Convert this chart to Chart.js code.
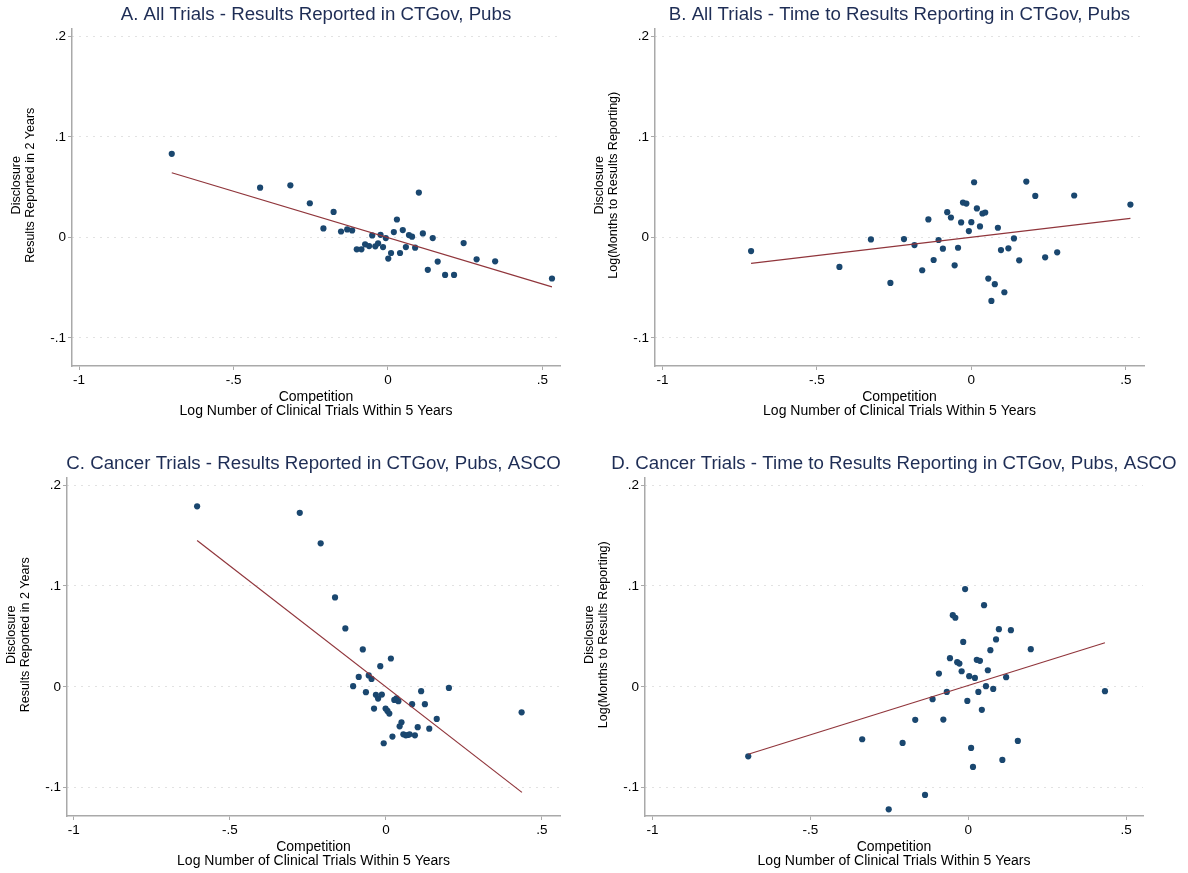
<!DOCTYPE html>
<html>
<head>
<meta charset="utf-8">
<title>Competition and disclosure</title>
<script src="https://cdn.jsdelivr.net/npm/chart.js@4.4.1/dist/chart.umd.min.js"></script>
<style>
    html, body { margin: 0; padding: 0; background: #fff; width: 1188px; height: 873px; overflow: hidden; }
    canvas { position: absolute; }
</style>
</head>
<body>
<canvas id="panelA" width="620" height="430" style="left:6px;top:0px"></canvas>
<canvas id="panelB" width="621" height="430" style="left:589px;top:0px"></canvas>
<canvas id="panelC" width="625" height="426" style="left:1px;top:449px"></canvas>
<canvas id="panelD" width="630" height="426" style="left:579px;top:449px"></canvas>
<script>
// Achsenbeschriftung (Stata-Stil ohne führende Null)
const xTickValues = [-1, -0.5, 0, 0.5];
const xTickLabels = ["-1", "-.5", "0", ".5"];
const yTickValues = [-0.1, 0, 0.1, 0.2];
const yTickLabels = ["-.1", "0", ".1", ".2"];

const titles = [
    "A. All Trials - Results Reported in CTGov, Pubs",
    "B. All Trials - Time to Results Reporting in CTGov, Pubs",
    "C. Cancer Trials - Results Reported in CTGov, Pubs, ASCO",
    "D. Cancer Trials - Time to Results Reporting in CTGov, Pubs, ASCO"
];
const xTitle = ["Competition", "Log Number of Clinical Trials Within 5 Years"];
const yTitleShare = ["Disclosure", "Results Reported in 2 Years"];
const yTitleTime = ["Disclosure", "Log(Months to Results Reporting)"];

// A: alle Studien, Anteil berichtet in 2 Jahren
const aX = [-0.700, -0.414, -0.316, -0.253, -0.176, -0.209, -0.152, -0.132, -0.116, -0.101,
            -0.086, -0.074, -0.061, -0.051, -0.041, -0.032, -0.024, -0.016, -0.007, 0.001,
            0.010, 0.019, 0.029, 0.039, 0.048, 0.058, 0.068, 0.078, 0.088, 0.100,
            0.113, 0.129, 0.145, 0.161, 0.185, 0.214, 0.245, 0.287, 0.347, 0.531];
const aY = [0.0832, 0.0495, 0.0518, 0.0340, 0.0254, 0.0089, 0.0059, 0.0079, 0.0069, -0.0119,
            -0.0119, -0.0069, -0.0086, 0.0020, -0.0089, -0.0059, 0.0026, -0.0096, -0.0007, -0.0211,
            -0.0155, 0.0053, 0.0178, -0.0155, 0.0073, -0.0096, 0.0023, 0.0007, -0.0102, 0.0446,
            0.0040, -0.0323, -0.0007, -0.0241, -0.0373, -0.0373, -0.0056, -0.0218, -0.0238, -0.0409];
const fitAX = [-0.700, 0.531];
const fitAY = [0.0644, -0.0492];

// B: alle Studien, Zeit bis zur Berichterstattung
const bX = [-0.713, -0.427, -0.325, -0.262, -0.218, -0.184, -0.159, -0.139, -0.122, -0.106,
            -0.092, -0.078, -0.066, -0.054, -0.043, -0.033, -0.027, -0.016, -0.008, 0.000,
            0.009, 0.018, 0.028, 0.036, 0.045, 0.055, 0.065, 0.076, 0.086, 0.096,
            0.107, 0.120, 0.138, 0.155, 0.178, 0.207, 0.239, 0.278, 0.333, 0.515];
const bY = [-0.0136, -0.0294, -0.0020, -0.0453, -0.0017, -0.0076, -0.0327, 0.0179, -0.0225, -0.0026,
            -0.0112, 0.0251, 0.0198, -0.0278, -0.0103, 0.0149, 0.0347, 0.0337, 0.0063, 0.0152,
            0.0549, 0.0288, 0.0109, 0.0238, 0.0248, -0.0410, -0.0632, -0.0466, 0.0096, -0.0126,
            -0.0546, -0.0109, -0.0010, -0.0228, 0.0556, 0.0413, -0.0198, -0.0149, 0.0417, 0.0327];
const fitBX = [-0.713, 0.515];
const fitBY = [-0.0258, 0.0189];

// C: Krebsstudien, Anteil berichtet in 2 Jahren
const cX = [-0.605, -0.276, -0.209, -0.163, -0.130, -0.074, 0.016, -0.018, -0.087, -0.055,
            -0.046, -0.105, -0.064, -0.032, -0.025, -0.013, -0.038, -0.001, 0.005, 0.011,
            0.027, 0.034, 0.040, 0.050, 0.044, 0.021, -0.007, 0.056, 0.064, 0.070,
            0.076, 0.093, 0.084, 0.102, 0.113, 0.125, 0.139, 0.163, 0.202, 0.435];
const cY = [0.1790, 0.1725, 0.1423, 0.0887, 0.0579, 0.0371, 0.0281, 0.0205, 0.0099, 0.0113,
            0.0079, 0.0007, -0.0053, -0.0079, -0.0116, -0.0076, -0.0215, -0.0215, -0.0238, -0.0265,
            -0.0129, -0.0113, -0.0142, -0.0351, -0.0391, -0.0493, -0.0559, -0.0470, -0.0480, -0.0477,
            -0.0470, -0.0480, -0.0172, -0.0400, -0.0043, -0.0172, -0.0414, -0.0318, -0.0010, -0.0252];
const fitCX = [-0.605, 0.436];
const fitCY = [0.1450, -0.1046];

// D: Krebsstudien, Zeit bis zur Berichterstattung
const dX = [-0.697, -0.336, -0.252, -0.208, -0.168, -0.137, -0.113, -0.093, -0.079, -0.068,
            -0.058, -0.049, -0.041, -0.035, -0.028, -0.021, -0.016, -0.010, -0.003, 0.003,
            0.009, 0.015, 0.021, 0.027, 0.032, 0.037, 0.043, 0.050, 0.056, 0.062,
            0.070, 0.079, 0.088, 0.097, 0.108, 0.120, 0.135, 0.157, 0.198, 0.433];
const dY = [-0.0688, -0.0519, -0.1214, -0.0556, -0.0327, -0.1071, -0.0122, 0.0132, -0.0324, -0.0050,
            0.0284, 0.0711, 0.0685, 0.0245, 0.0231, 0.0155, 0.0446, 0.0969, -0.0139, 0.0106,
            -0.0605, -0.0794, 0.0089, 0.0268, -0.0050, 0.0258, -0.0228, 0.0810, 0.0007, 0.0165,
            0.0364, -0.0020, 0.0470, 0.0572, -0.0724, 0.0096, 0.0562, -0.0536, 0.0374, -0.0043];
const fitDX = [-0.697, 0.433];
const fitDY = [-0.0668, 0.0437];

const dotColor = "#1a476f";
const fitColor = "#90353b";
const axisColor = "#a9a9a9";
const fontFamily = "'Liberation Sans', Arial, Helvetica, sans-serif";

Chart.defaults.font.family = fontFamily;
Chart.defaults.color = "#000";

const toPoints = (xs, ys) => xs.map((x, i) => ({ x: x, y: ys[i] }));

// Zweizeiliger y-Titel, etwas oberhalb der Mitte wie in Stata
const sideTitle = {
    id: "sideTitle",
    afterDraw(chart, args, opts) {
        const { ctx, chartArea } = chart;
        const cy = (chartArea.top + chartArea.bottom) / 2 + opts.shift;
        ctx.save();
        ctx.font = "12.5px " + fontFamily;
        ctx.fillStyle = "#000";
        ctx.textAlign = "center";
        ctx.textBaseline = "middle";
        opts.lines.forEach((line, i) => {
            ctx.save();
            ctx.translate(chartArea.left - 55 + i * 14, cy);
            ctx.rotate(-Math.PI / 2);
            ctx.fillText(line, 0, 0);
            ctx.restore();
        });
        ctx.restore();
    }
};

// Ein Streudiagramm mit Regressionsgerade
function makePanel(id, title, yTitle, xs, ys, fx, fy, range, padBottom) {
    const ctx = document.getElementById(id).getContext("2d");
    return new Chart(ctx, {
        type: "scatter",
        plugins: [sideTitle],
        data: {
            datasets: [
                {
                    data: toPoints(fx, fy),
                    showLine: true,
                    borderColor: fitColor,
                    borderWidth: 1.2,
                    pointRadius: 0
                },
                {
                    data: toPoints(xs, ys),
                    backgroundColor: dotColor,
                    borderWidth: 0,
                    pointRadius: 3.1
                }
            ]
        },
        options: {
            responsive: false,
            animation: false,
            layout: { padding: { left: 0, right: 0, top: 0, bottom: padBottom } },
            plugins: {
                legend: { display: false },
                tooltip: { enabled: false },
                sideTitle: { lines: yTitle, shift: -12 },
                title: {
                    display: true,
                    text: title,
                    color: "#1e2d55",
                    font: { size: 18.7, weight: "normal", lineHeight: 1.2 },
                    padding: { top: 4, bottom: 2 }
                }
            },
            scales: {
                x: {
                    type: "linear",
                    min: range[0],
                    max: range[1],
                    afterBuildTicks: s => { s.ticks = xTickValues.map(v => ({ value: v })); },
                    afterFit: s => { s.height = 54; },
                    ticks: { callback: (v, i) => xTickLabels[i], font: { size: 13.5 }, padding: 2, maxRotation: 0 },
                    grid: { drawOnChartArea: false, tickLength: 4, tickColor: axisColor, tickWidth: 1 },
                    border: { color: axisColor, width: 1.5 },
                    title: {
                        display: true,
                        text: xTitle,
                        font: { size: 14, lineHeight: 1.0 },
                        padding: { top: 0, bottom: 2 }
                    }
                },
                y: {
                    type: "linear",
                    min: range[2],
                    max: range[3],
                    afterBuildTicks: s => { s.ticks = yTickValues.map(v => ({ value: v })); },
                    afterFit: s => { s.width = 66; },
                    ticks: { callback: (v, i) => yTickLabels[i], font: { size: 13.5 }, padding: 2 },
                    grid: { color: "#c4c4c4", lineWidth: 1, tickLength: 4, tickColor: axisColor, tickWidth: 1 },
                    border: { color: axisColor, width: 1.5, dash: [1, 6] }
                },
                // leerer rechter Rand, damit der Titel über der Zeichenfläche zentriert ist
                margin: {
                    type: "linear",
                    position: "right",
                    min: 0,
                    max: 1,
                    afterFit: s => { s.width = 66; },
                    ticks: { display: false },
                    grid: { display: false },
                    border: { display: false }
                }
            }
        }
    });
}

makePanel("panelA", titles[0], yTitleShare, aX, aY, fitAX, fitAY, [-1.023, 0.557, -0.128, 0.208], 10);
makePanel("panelB", titles[1], yTitleTime, bX, bY, fitBX, fitBY, [-1.024, 0.559, -0.128, 0.208], 10);
makePanel("panelC", titles[2], yTitleShare, cX, cY, fitCX, fitCY, [-1.022, 0.558, -0.128, 0.2076], 5);
makePanel("panelD", titles[3], yTitleTime, dX, dY, fitDX, fitDY, [-1.024, 0.5535, -0.128, 0.2076], 5);
</script>
</body>
</html>
